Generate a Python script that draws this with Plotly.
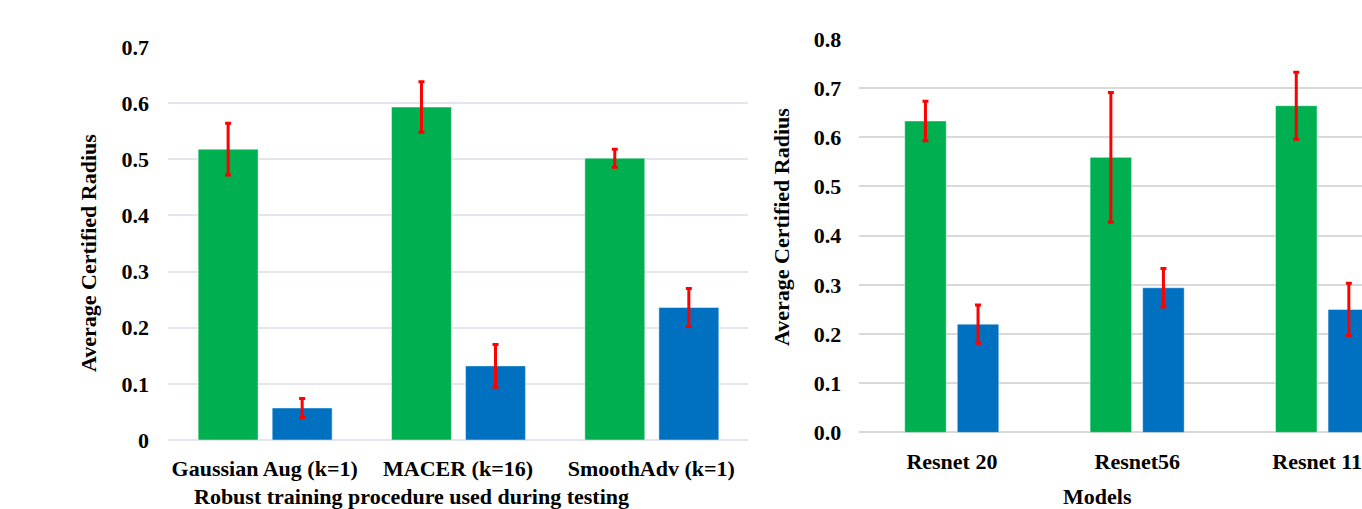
import plotly.graph_objects as go

# ---------------- data ----------------
left_categories = ["Gaussian Aug (k=1)", "MACER (k=16)", "SmoothAdv (k=1)"]
left_green = [0.518, 0.593, 0.502]
left_green_err = [0.046, 0.045, 0.016]
left_blue = [0.057, 0.132, 0.236]
left_blue_err = [0.017, 0.038, 0.034]
left_tickvals = [0, 0.1, 0.2, 0.3, 0.4, 0.5, 0.6, 0.7]
left_ticktext = ["0", "0.1", "0.2", "0.3", "0.4", "0.5", "0.6", "0.7"]

right_categories = ["Resnet 20", "Resnet56", "Resnet 110"]
right_green = [0.633, 0.559, 0.664]
right_green_err = [0.040, 0.132, 0.068]
right_blue = [0.220, 0.294, 0.250]
right_blue_err = [0.039, 0.039, 0.053]
right_tickvals = [0, 0.1, 0.2, 0.3, 0.4, 0.5, 0.6, 0.7, 0.8]

left_xtitle = "Robust training procedure used during testing"
right_xtitle = "Models"
ytitle = "Average Certified Radius"

GREEN = "#00B050"
BLUE = "#0070C0"
RED = "#FF0000"
FONT = "Liberation Serif"
W, H = 1362, 509
TICK_SIZE = 22
TITLE_SIZE = 22


def err(vals):
    return dict(type="data", array=vals, visible=True, color=RED, thickness=3, width=3)


fig = go.Figure()

edge = dict(color="rgba(255,255,255,0.45)", width=1)

# left panel bars
fig.add_trace(go.Bar(x=left_categories, y=left_green, error_y=err(left_green_err),
                     marker=dict(color=GREEN, line=edge),
                     width=0.31, offset=-0.344, xaxis="x", yaxis="y", showlegend=False))
fig.add_trace(go.Bar(x=left_categories, y=left_blue, error_y=err(left_blue_err),
                     marker=dict(color=BLUE, line=edge),
                     width=0.31, offset=0.039, xaxis="x", yaxis="y", showlegend=False))

# right panel bars
fig.add_trace(go.Bar(x=right_categories, y=right_green, error_y=err(right_green_err),
                     marker=dict(color=GREEN, line=edge),
                     width=0.224, offset=-0.2546, xaxis="x2", yaxis="y2", showlegend=False))
fig.add_trace(go.Bar(x=right_categories, y=right_blue, error_y=err(right_blue_err),
                     marker=dict(color=BLUE, line=edge),
                     width=0.224, offset=0.029, xaxis="x2", yaxis="y2", showlegend=False))

tickfont = dict(family=FONT, size=TICK_SIZE, color="black", weight="bold")
titlefont = dict(family=FONT, size=TITLE_SIZE, color="black")

fig.update_layout(
    width=W, height=H,
    margin=dict(l=0, r=0, t=0, b=0),
    paper_bgcolor="white", plot_bgcolor="white",
    font=dict(family=FONT, color="black"),
    xaxis=dict(domain=[168 / W, 748 / W], anchor="y", type="category", range=[-0.5, 2.5],
               showgrid=False, showline=False, ticks="", tickfont=tickfont,
               ticklabelstandoff=13, automargin=False),
    yaxis=dict(domain=[(H - 440) / H, (H - 47) / H], anchor="x", range=[0, 0.7],
               tickvals=left_tickvals, ticktext=left_ticktext,
               showgrid=True, gridcolor="#E3E6EB", gridwidth=1.5, zeroline=True, zerolinecolor="#E3E6EB",
               zerolinewidth=1.5, showline=False, ticks="", tickfont=tickfont,
               ticklabelstandoff=18, automargin=False),
    xaxis2=dict(domain=[859.2 / W, 1.0], anchor="y2", type="category", range=[-0.5, 2.212],
                showgrid=False, showline=False, ticks="", tickfont=tickfont,
                ticklabelstandoff=14, automargin=False),
    yaxis2=dict(domain=[(H - 432.4) / H, (H - 38.8) / H], anchor="x2", range=[0, 0.8],
                tickvals=right_tickvals, tickformat=".1f",
                showgrid=True, gridcolor="#D9D9D9", gridwidth=1.5, zeroline=True, zerolinecolor="#D9D9D9",
                zerolinewidth=1.5, showline=False, ticks="", tickfont=tickfont,
                ticklabelstandoff=17, automargin=False),
    annotations=[
        dict(text="<b>" + ytitle + "</b>", x=88 / W, y=(H - 253) / H, xref="paper", yref="paper",
             textangle=-90, showarrow=False, font=titlefont,
             xanchor="center", yanchor="middle"),
        dict(text="<b>" + ytitle + "</b>", x=781 / W, y=(H - 227) / H, xref="paper", yref="paper",
             textangle=-90, showarrow=False, font=titlefont,
             xanchor="center", yanchor="middle"),
        dict(text="<b>" + left_xtitle + "</b>", x=411 / W, y=(H - 496) / H, xref="paper", yref="paper",
             showarrow=False, font=titlefont,
             xanchor="center", yanchor="middle"),
        dict(text="<b>" + right_xtitle + "</b>", x=1097 / W, y=(H - 496) / H, xref="paper", yref="paper",
             showarrow=False, font=titlefont,
             xanchor="center", yanchor="middle"),
    ],
)

fig.write_html("out.html")
